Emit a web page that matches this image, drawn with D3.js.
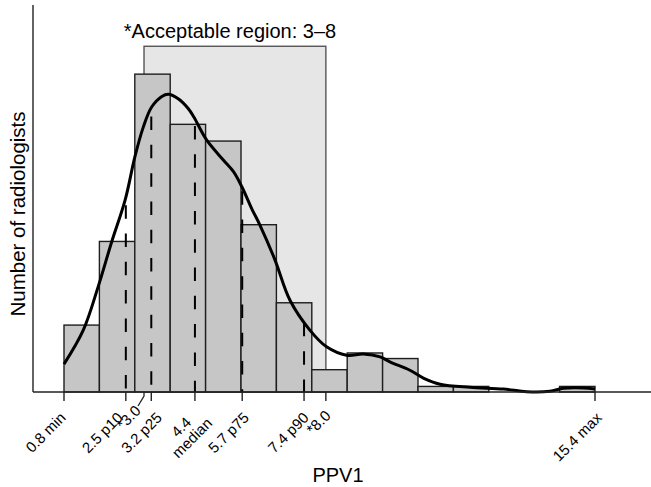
<!DOCTYPE html>
<html><head><meta charset="utf-8">
<script src="https://cdn.jsdelivr.net/npm/d3@7/dist/d3.min.js"></script>
<style>
body{margin:0;background:#fff}
svg{display:block}
text{font-family:"Liberation Sans",Arial,Helvetica,sans-serif;fill:#000}
</style>
</head><body>
<svg id="chart" width="651" height="487"></svg>
<script>
// ---- data ----
const binStart = 0.8;
const binEnd = 15.4;
const binCounts = [12, 27, 57, 48, 45, 30, 16, 4, 7, 6, 1, 1, 0, 0, 1];
const densityX = [0.8, 1.33, 1.74, 2.11, 2.48, 2.75, 2.98, 3.21, 3.49, 3.67, 3.94, 4.22, 4.37, 4.72, 5.18, 5.46, 5.69, 5.96, 6.19, 6.60, 7.01, 7.56, 8.02, 8.57, 9.03, 9.49, 9.76, 10.31, 10.68, 11.14, 11.96, 12.88, 13.52, 14.16, 14.53, 15.08, 15.4];
const densityY = [5.0, 11.1, 18.9, 26.9, 34.4, 42.2, 47.5, 51.1, 53.0, 53.4, 52.6, 50.8, 49.3, 45.2, 41.6, 39.5, 36.8, 32.9, 29.9, 23.7, 16.5, 11.1, 8.1, 6.6, 6.8, 6.3, 5.4, 3.9, 2.5, 1.4, 0.84, 0.54, 0.05, 0.13, 0.66, 0.72, 0.54];
const tickValues = [0.8, 2.5, 3.0, 3.2, 4.4, 5.7, 7.4, 8.0, 15.4];
const tickLabels = [["0.8 min"], ["2.5 p10"], ["*3.0"], ["3.2 p25"], ["4.4", "median"], ["5.7 p75"], ["7.4 p90"], ["*8.0"], ["15.4 max"]];
const percentileValues = [2.5, 3.2, 4.4, 5.7, 7.4];
const percentileHeights = [33.5, 49.4, 47.7, 36.0, 12.4];
const acceptableRange = [3.0, 8.0];
const acceptableTop = 62;
const yMax = 69.4;
const titleText = "*Acceptable region: 3\u20138";
const xTitle = "PPV1";
const yTitle = "Number of radiologists";

// ---- layout ----
const svg = d3.select("#chart");
const baseY = 392, axisX = 33;
const x = d3.scaleLinear().domain([binStart, binEnd]).range([64, 595]);
const y = d3.scaleLinear().domain([0, yMax]).range([baseY, 5]);
const binW = (binEnd - binStart) / binCounts.length;
const bins = binCounts.map((c, i) => ({x0: binStart + i * binW, x1: binStart + (i + 1) * binW, n: c}));

// acceptable region
svg.append("rect")
  .attr("x", x(acceptableRange[0])).attr("y", y(acceptableTop))
  .attr("width", x(acceptableRange[1]) - x(acceptableRange[0]))
  .attr("height", y(0) - y(acceptableTop))
  .attr("fill", "#e6e6e6").attr("stroke", "#555").attr("stroke-width", 1.4);

// bars
svg.append("g").selectAll("rect").data(bins.filter(b => b.n > 0)).join("rect")
  .attr("x", d => x(d.x0)).attr("y", d => y(d.n))
  .attr("width", d => x(d.x1) - x(d.x0)).attr("height", d => y(0) - y(d.n))
  .attr("fill", "#c6c6c6").attr("stroke", "#1e1e1e").attr("stroke-width", 1.4);

// percentile dashed lines (drawn from top down)
svg.append("g").selectAll("line").data(percentileValues).join("line")
  .attr("x1", d => x(d)).attr("x2", d => x(d))
  .attr("y1", (d, i) => y(percentileHeights[i])).attr("y2", y(0))
  .attr("stroke", "#000").attr("stroke-width", 2).attr("stroke-dasharray", "13.5,14.8");

// density curve
const pts = densityX.map((v, i) => [v, densityY[i]]);
svg.append("path").datum(pts)
  .attr("d", d3.line().x(d => x(d[0])).y(d => y(d[1])).curve(d3.curveCatmullRom.alpha(0.5)))
  .attr("fill", "none").attr("stroke", "#000").attr("stroke-width", 3);

// axes lines
svg.append("line").attr("x1", axisX).attr("x2", 651).attr("y1", baseY).attr("y2", baseY)
  .attr("stroke", "#222").attr("stroke-width", 1.4);
svg.append("line").attr("x1", axisX).attr("x2", axisX).attr("y1", 5).attr("y2", baseY)
  .attr("stroke", "#222").attr("stroke-width", 1.4);

// ticks
const labelShiftX = {0: -5, 1: -10, 3: 4, 4: 5, 6: -2, 7: -2};
const labelShiftY = {7: -2};
tickValues.forEach((v, i) => {
  const tx = x(v);
  if (v === 3.0) {
    svg.append("polyline")
      .attr("points", `${tx},${baseY} ${tx},${baseY + 4} ${tx - 6},${baseY + 14}`)
      .attr("fill", "none").attr("stroke", "#222").attr("stroke-width", 1.3);
  } else {
    svg.append("line").attr("x1", tx).attr("x2", tx).attr("y1", baseY).attr("y2", baseY + 9)
      .attr("stroke", "#222").attr("stroke-width", 1.4);
  }
  let px, py;
  if (v === 3.0) { px = tx - 6; py = 408; }
  else { px = tx + 4 + (labelShiftX[i] || 0); py = 415 + (labelShiftY[i] || 0); }
  const g = svg.append("g").attr("transform", `translate(${px},${py}) rotate(-45)`);
  const lines = tickLabels[i];
  const L = 15.5;
  const tEls = lines.map((s, k) => g.append("text")
    .attr("font-size", 15)
    .attr("y", (k - (lines.length - 1) / 2) * L)
    .attr("dy", "0.35em")
    .text(s));
  const maxW = d3.max(tEls, t => t.node().getComputedTextLength());
  tEls.forEach(t => t.attr("text-anchor", "middle").attr("x", -maxW / 2));
});

// titles
svg.append("text").attr("x", 230).attr("y", 38).attr("text-anchor", "middle")
  .attr("font-size", 20).text(titleText);
svg.append("text").attr("x", 338).attr("y", 482).attr("text-anchor", "middle")
  .attr("font-size", 20).text(xTitle);
svg.append("text").attr("transform", "translate(25,214) rotate(-90)").attr("text-anchor", "middle")
  .attr("font-size", 20.5).text(yTitle);
</script>
</body></html>
